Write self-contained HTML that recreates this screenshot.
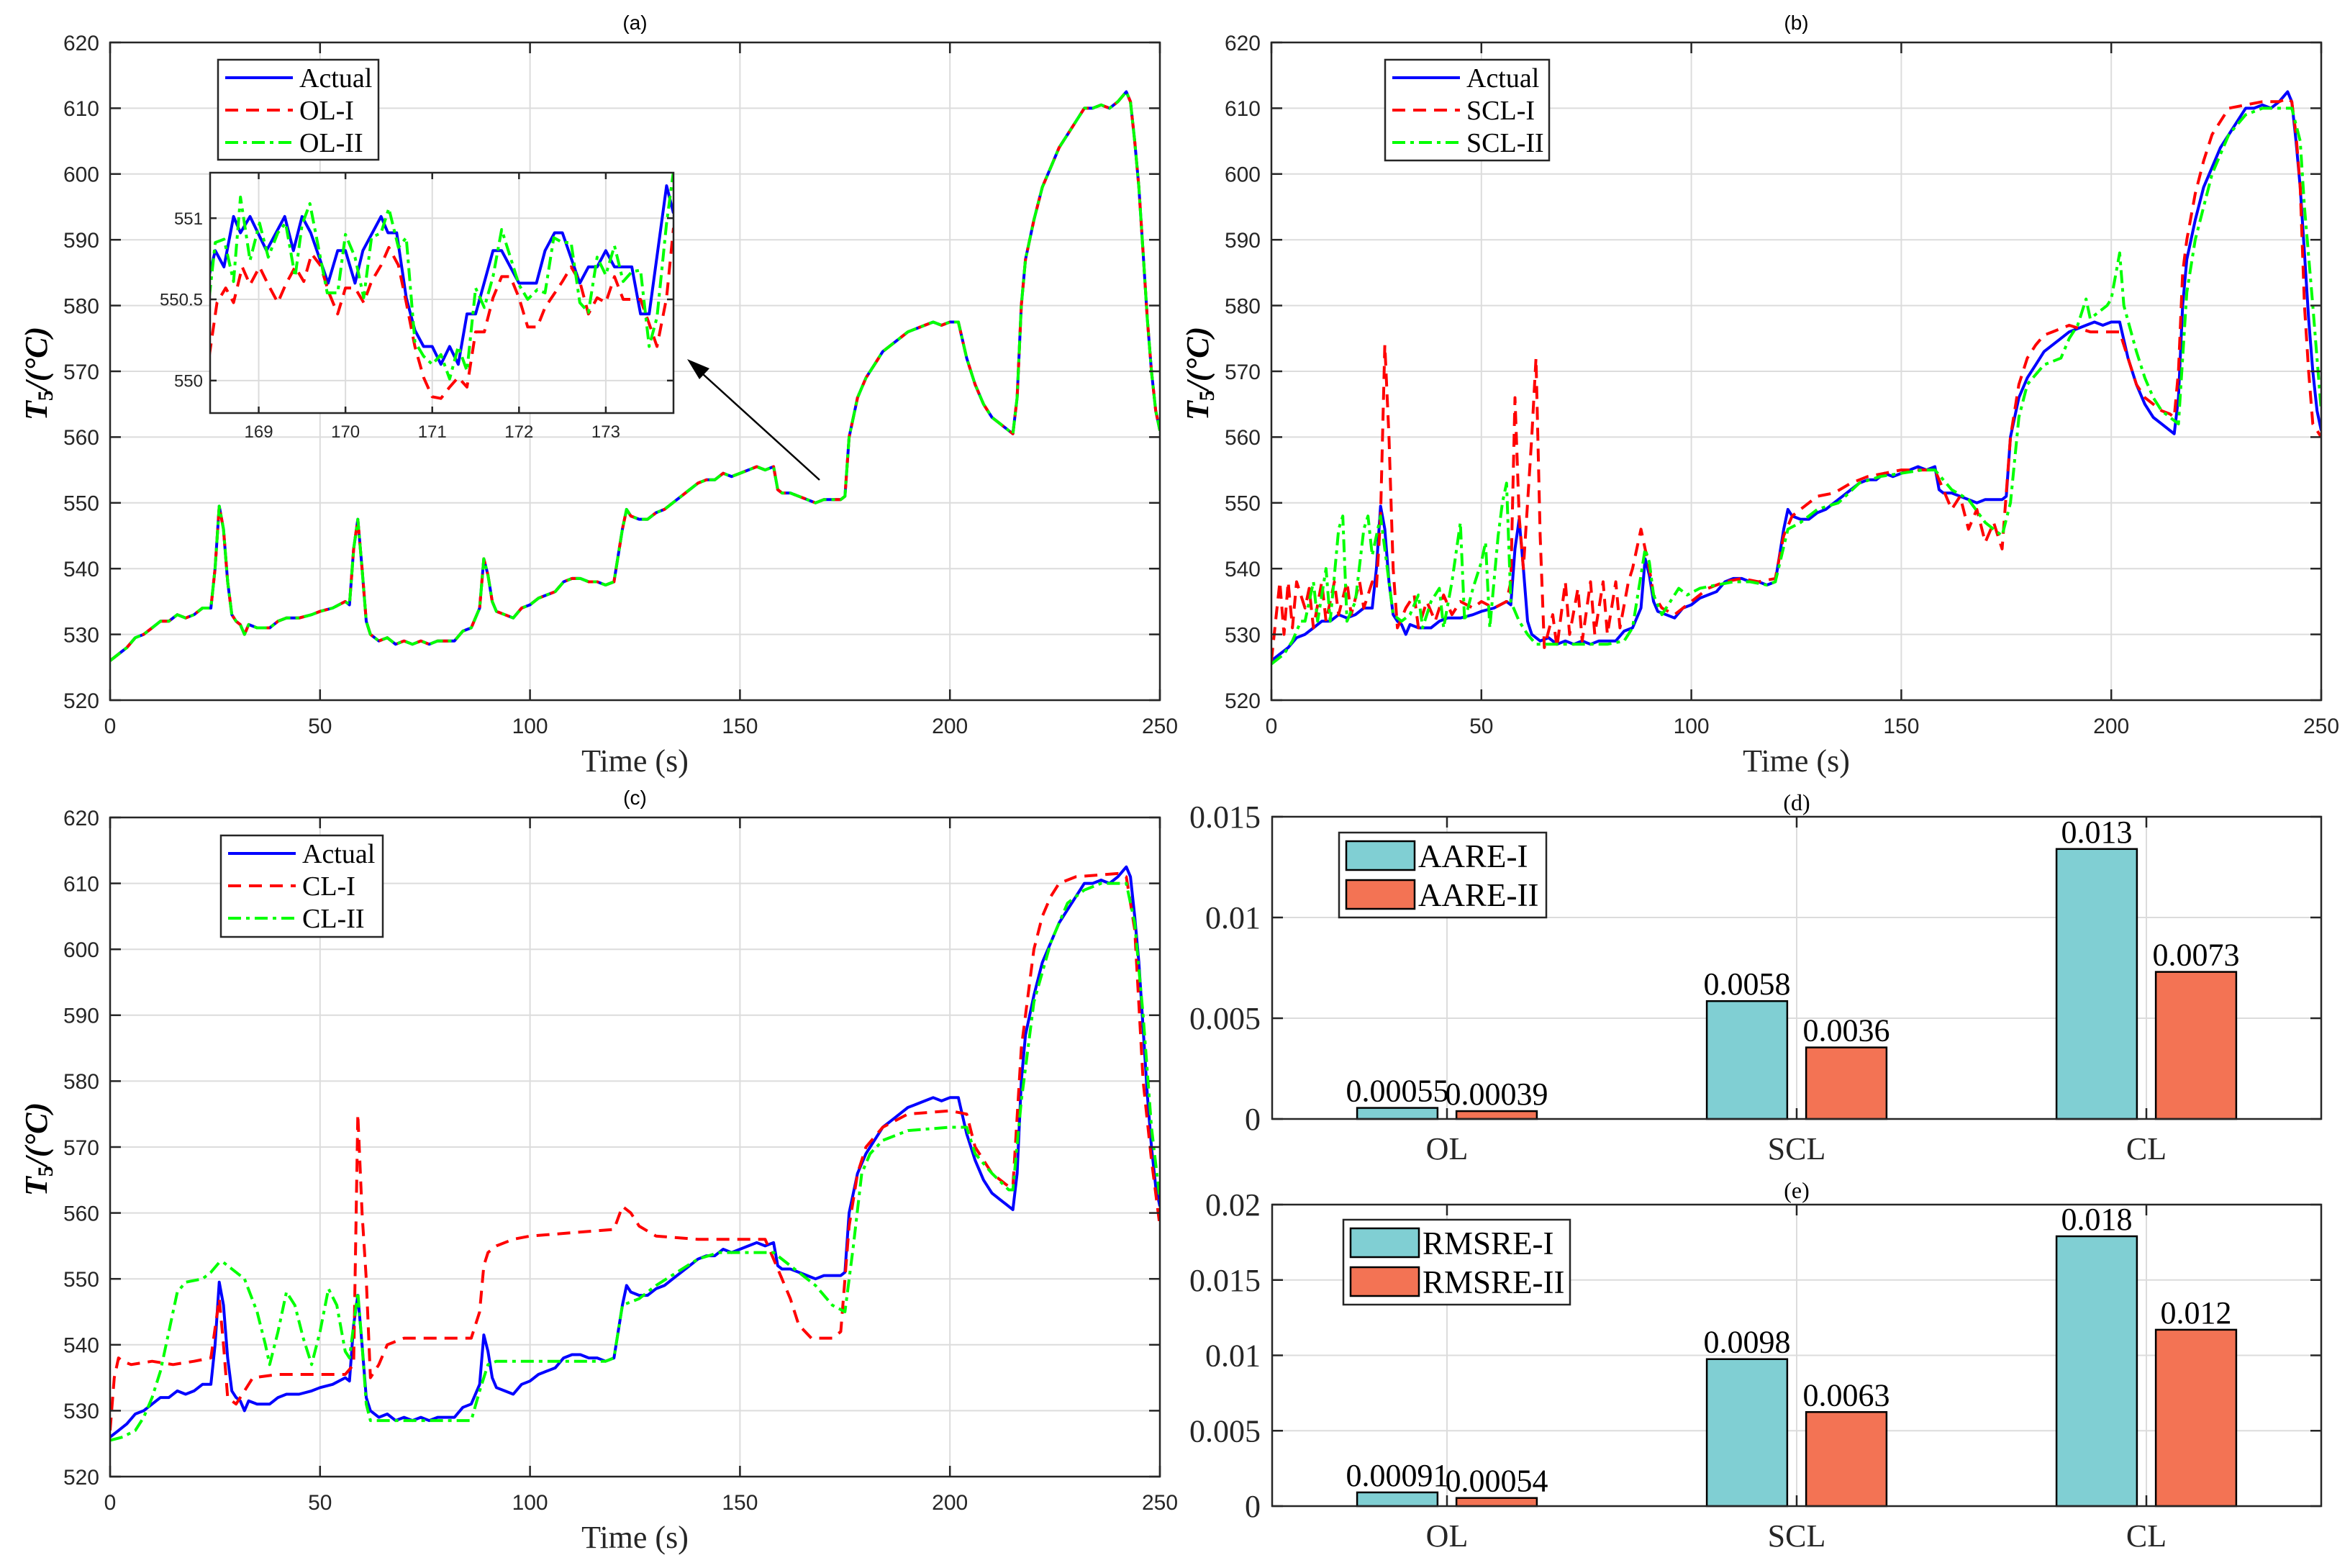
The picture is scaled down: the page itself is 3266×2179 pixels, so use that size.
<!DOCTYPE html>
<html><head><meta charset="utf-8">
<style>
html,body{margin:0;padding:0;background:#fff;}
svg{display:block;}
</style></head>
<body>
<svg id="fig" xmlns="http://www.w3.org/2000/svg" width="3266" height="2179" viewBox="0 0 3266 2179">
<rect x="0" y="0" width="3266" height="2179" fill="#fff"/>
</svg>
<script>
// ---------- data ----------
const actual = [[0,526],[2,527],[4,528],[6,529.5],[8,530],[10,531],[12,532],[14,532],[16,533],[18,532.5],[20,533],[22,534],[24,534],[25,540],[26,549.5],[27,546],[28,538],[29,533],[30,532],[31,531.5],[32,530],[33,531.5],[35,531],[38,531],[40,532],[42,532.5],[45,532.5],[48,533],[50,533.5],[53,534],[56,535],[57,534.5],[58,543],[59,547.5],[60,540],[61,532],[62,530],[64,529],[66,529.5],[68,528.5],[70,529],[72,528.5],[74,529],[76,528.5],[78,529],[80,529],[82,529],[84,530.5],[86,531],[88,534],[89,541.5],[90,539],[91,535],[92,533.5],[94,533],[96,532.5],[98,534],[100,534.5],[102,535.5],[104,536],[106,536.5],[108,538],[110,538.5],[112,538.5],[114,538],[116,538],[118,537.5],[120,538],[122,546],[123,549],[124,548],[126,547.5],[128,547.5],[130,548.5],[132,549],[134,550],[136,551],[138,552],[140,553],[142,553.5],[144,553.5],[146,554.5],[148,554],[150,554.5],[152,555],[154,555.5],[156,555],[158,555.5],[159,552],[160,551.5],[162,551.5],[164,551],[166,550.5],[168,550],[170,550.5],[172,550.5],[174,550.5],[175,551],[176,560],[178,566],[180,569],[182,571],[184,573],[186,574],[188,575],[190,576],[192,576.5],[194,577],[196,577.5],[198,577],[200,577.5],[202,577.5],[204,572],[206,568],[208,565],[210,563],[212,562],[214,561],[215,560.5],[216,566],[217,580],[218,587],[220,593],[222,598],[224,601],[226,604],[228,606],[230,608],[232,610],[234,610],[236,610.5],[238,610],[240,611],[242,612.5],[243,611],[244,605],[245,598],[246,588],[247,578],[248,570],[249,564],[250,561]];
const olI = actual;
const olII = actual;
const sclI = [[0,526],[1,532],[2,538],[3,530],[4,538],[5,531],[6,538],[8,534],[9,537],[10,531],[12,538],[13,532],[15,538],[16,533],[18,538],[19,533],[21,538],[22,534],[24,538],[25,537],[26,548],[27,574],[28,560],[29,540],[30,531],[32,534],[34,536],[35,531],[37,535],[39,532],[41,536],[43,533],[45,535],[48,534],[50,535],[53,534],[56,535],[57,538],[58,566],[59,548],[60,540],[62,560],[63,572],[64,545],[65,528],[67,533],[68,528],[70,538],[71,530],[73,537],[74,529],[76,538],[77,530],[79,538],[80,530],[82,538],[83,531],[85,538],[86,540],[88,546],[90,540],[91,536],[93,534],[96,533],[100,535],[104,537],[108,538],[112,538.5],[116,538],[120,538.5],[122,545],[124,548],[126,549],[128,550],[130,551],[134,551.5],[138,553],[142,554],[146,554.5],[150,555],[154,555],[158,555],[160,552],[162,549],[164,551],[166,546],[168,549],[170,544],[172,547],[174,543],[176,560],[178,568],[180,572],[182,574],[184,575.5],[186,576],[190,577],[195,576],[200,576],[202,576],[204,572],[206,568],[208,566],[210,565],[212,564],[214,563.5],[215,563],[216,570],[217,585],[218,590],[220,597],[222,602],[224,606],[226,608],[228,610],[232,610.5],[236,611],[240,611],[242,611.5],[243,611],[244,606],[245,598],[246,580],[247,570],[248,562],[250,560]];
const sclII = [[0,525.5],[3,527],[5,529],[7,532],[8,532],[10,538],[11,532],[13,540],[14,532],[16,546],[17,548],[18,532],[20,535],[22,546],[23,548],[24,542],[26,548],[28,538],[29,533],[31,532],[33,533],[35,536],[36,531],[38,535],[40,537],[41,531],[43,538],[45,547],[46,532],[48,537],[50,541],[51,544],[52,531],[54,545],[55,550],[56,553],[57,535],[59,532],[61,530],[63,528.5],[66,528.5],[72,528.5],[80,528.5],[84,529],[86,531],[87,535],[88,539],[89,543],[90,541],[91,536],[93,533],[95,535],[97,537],[99,536],[102,537],[106,537.5],[110,538],[114,538],[118,537.5],[120,538],[123,546],[126,547],[130,549],[135,550],[140,553],[145,554],[150,554.5],[155,555],[158,555],[162,552],[166,550.5],[170,547],[172,546],[174,545],[176,550],[178,563],[180,568],[184,571],[188,572],[190,575],[192,577],[194,581],[195,578],[197,579],[199,580],[200,581],[202,588],[203,580],[206,573],[208,569],[210,566],[212,564],[214,563],[216,562],[217,572],[218,582],[220,590],[224,600],[228,606],[232,609],[236,610],[240,610],[243,610],[245,605],[246,595],[248,580],[250,564]];
const clI = [[0,527],[1,535],[2,538],[3,537.5],[5,537],[10,537.5],[15,537],[20,537.5],[24,538],[26,547],[27,540],[28,532],[30,531],[32,533],[34,535],[40,535.5],[50,535.5],[56,535.5],[58,537],[59,575],[60,560],[61,550],[62,535],[64,537],[66,540],[70,541],[80,541],[86,541],[88,545],[89,552],[90,554],[92,555],[96,556],[100,556.5],[110,557],[120,557.5],[122,561],[124,560],[126,558],[130,556.5],[140,556],[150,556],[156,556],[158,553],[160,550],[162,547],[164,543],[167,541],[172,541],[174,542],[176,558],[178,566],[180,570],[184,573],[190,575],[200,575.5],[204,575],[206,570],[210,566],[214,564],[215,564],[217,585],[220,600],[222,605],[224,608],[226,610],[230,611],[240,611.5],[242,611],[244,603],[246,580],[248,568],[250,558]];
const clII = [[0,525.5],[3,526],[6,527],[8,529],[10,532],[12,536],[14,542],[16,548],[18,549.5],[22,550],[24,551],[26,552.5],[27,552.5],[28,552],[32,550],[35,545],[37,540],[38,537],[40,542],[42,548],[44,546],[46,541],[48,537],[50,542],[52,548.5],[54,546],[56,539],[57,538],[59,548],[60,540],[61,531],[62,528.5],[70,528.5],[80,528.5],[86,528.5],[88,533],[90,537],[92,537.5],[100,537.5],[110,537.5],[118,537.5],[120,538],[122,546],[126,547],[130,549],[135,551],[140,553],[145,554],[150,554],[155,554],[158,554],[162,552],[168,549],[172,546],[175,545],[177,555],[179,566],[181,569],[184,571],[190,572.5],[200,573],[204,573],[206,569],[210,566],[214,563.5],[215,563.5],[217,577],[220,592],[224,601],[228,607],[232,609],[236,610],[240,610],[242,610],[244,604],[246,590],[248,573],[250,562]];
// inset (zoom of OL panel)
const insetActual = [[168.43,550.65],[168.5,550.8],[168.6,550.7],[168.71,551.01],[168.79,550.91],[168.9,551.01],[169.09,550.8],[169.3,551.01],[169.4,550.8],[169.5,551.01],[169.6,550.91],[169.8,550.6],[169.91,550.8],[170,550.8],[170.11,550.6],[170.2,550.8],[170.41,551.01],[170.49,550.91],[170.59,550.91],[170.7,550.51],[170.8,550.31],[170.9,550.21],[171,550.21],[171.1,550.1],[171.2,550.21],[171.3,550.1],[171.4,550.41],[171.5,550.41],[171.7,550.8],[171.8,550.8],[172,550.6],[172.2,550.6],[172.3,550.8],[172.41,550.91],[172.5,550.91],[172.7,550.6],[172.8,550.7],[172.9,550.7],[173,550.8],[173.1,550.7],[173.3,550.7],[173.4,550.41],[173.5,550.41],[173.7,551.2],[173.78,551.03]];
const insetOLI = [[168.43,550.15],[168.52,550.48],[168.62,550.57],[168.71,550.48],[168.81,550.7],[168.9,550.59],[169.01,550.7],[169.11,550.59],[169.22,550.48],[169.31,550.59],[169.42,550.7],[169.52,550.61],[169.61,550.78],[169.71,550.71],[169.81,550.54],[169.91,550.41],[170,550.57],[170.11,550.57],[170.21,550.48],[170.3,550.61],[170.41,550.71],[170.5,550.82],[170.61,550.71],[170.7,550.48],[170.8,550.21],[170.9,550.02],[171,549.9],[171.1,549.89],[171.2,549.96],[171.3,550.02],[171.4,549.96],[171.5,550.3],[171.6,550.3],[171.7,550.51],[171.8,550.64],[171.9,550.64],[172,550.51],[172.1,550.33],[172.21,550.33],[172.3,550.45],[172.4,550.53],[172.5,550.61],[172.6,550.7],[172.7,550.61],[172.8,550.41],[172.9,550.51],[173,550.48],[173.1,550.64],[173.2,550.5],[173.3,550.5],[173.4,550.5],[173.5,550.35],[173.59,550.21],[173.7,550.51],[173.78,550.94]];
const insetOLII = [[168.43,550.51],[168.5,550.85],[168.6,550.87],[168.71,550.61],[168.79,551.13],[168.9,550.74],[169.01,550.97],[169.11,550.76],[169.22,550.91],[169.31,550.97],[169.42,550.64],[169.5,550.96],[169.59,551.09],[169.79,550.54],[169.91,550.54],[170,550.9],[170.11,550.76],[170.21,550.51],[170.3,550.88],[170.41,550.91],[170.5,551.06],[170.61,550.82],[170.7,550.88],[170.8,550.24],[170.9,550.15],[171,550.1],[171.1,550.16],[171.2,550.01],[171.3,550.21],[171.4,550.06],[171.5,550.57],[171.6,550.45],[171.7,550.64],[171.8,550.93],[171.9,550.76],[172,550.59],[172.1,550.5],[172.21,550.56],[172.3,550.54],[172.4,550.88],[172.5,550.85],[172.6,550.85],[172.7,550.48],[172.8,550.42],[172.9,550.76],[173,550.65],[173.1,550.83],[173.2,550.61],[173.3,550.67],[173.4,550.68],[173.5,550.21],[173.59,550.39],[173.7,550.97],[173.78,551.29]];
const timeTicks = [0,50,100,150,200,250];
const tempTicks = [520,530,540,550,560,570,580,590,600,610,620];
const insetXTicks = [169,170,171,172,173];
const insetYTicks = [550,550.5,551];
// bar data
const categories = ['OL','SCL','CL'];
const aareI = [0.00055,0.00585,0.0134];
const aareII = [0.00039,0.00355,0.0073];
const aareILabels = ['0.00055','0.0058','0.013'];
const aareIILabels = ['0.00039','0.0036','0.0073'];
const rmsreI = [0.00091,0.00975,0.0179];
const rmsreII = [0.00054,0.00624,0.0117];
const rmsreILabels = ['0.00091','0.0098','0.018'];
const rmsreIILabels = ['0.00054','0.0063','0.012'];
const aareTicks = [0,0.005,0.01,0.015];
const aareTickLabels = ['0','0.005','0.01','0.015'];
const rmsreTicks = [0,0.005,0.01,0.015,0.02];
const rmsreTickLabels = ['0','0.005','0.01','0.015','0.02'];

// ---------- helpers ----------
const NS='http://www.w3.org/2000/svg';
const svg=document.getElementById('fig');
function mk(tag,attrs,parent){const e=document.createElementNS(NS,tag);for(const k in attrs)e.setAttribute(k,attrs[k]);(parent||svg).appendChild(e);return e;}
function txt(s,attrs,parent){const e=mk('text',attrs,parent);e.textContent=s;return e;}
const AX='#262626', GRID='#dcdcdc';
const SANS='"Liberation Sans", Arial, sans-serif', SERIF='"Liberation Serif", "Times New Roman", serif';
const styles={
  actual:{stroke:'#0000ff',dash:''},
  red:{stroke:'#ff0000',dash:'18,11'},
  green:{stroke:'#00ff00',dash:'18,7,5,7'}
};

function linePanel(name,box,xd,yd,xt,yt,series,title,opts){
  const g=mk('g',{});
  
  
  const sx=v=>box.l+(v-xd[0])/(xd[1]-xd[0])*(box.r-box.l);
  const sy=v=>box.b-(v-yd[0])/(yd[1]-yd[0])*(box.b-box.t);
  const fs=opts.fs||30;
  // grid
  xt.forEach(v=>{const l=mk('line',{x1:sx(v),x2:sx(v),y1:box.t,y2:box.b,stroke:GRID,'stroke-width':2},g);});
  yt.forEach(v=>{const l=mk('line',{x1:box.l,x2:box.r,y1:sy(v),y2:sy(v),stroke:GRID,'stroke-width':2},g);});
  // series
  const clip='clip-'+name;
  const cp=mk('clipPath',{id:clip},g);mk('rect',{x:box.l,y:box.t,width:box.r-box.l,height:box.b-box.t},cp);
  series.forEach(s=>{
    const d=s.data.map((p,i)=>(i?'L':'M')+sx(p[0]).toFixed(1)+','+sy(p[1]).toFixed(1)).join('');
    const p=mk('path',{d:d,fill:'none',stroke:s.style.stroke,'stroke-width':opts.lw||4,'stroke-dasharray':s.style.dash,'stroke-linejoin':'round','clip-path':'url(#'+clip+')'},g);
    
    
  });
  // axes box
  const fr=mk('rect',{x:box.l,y:box.t,width:box.r-box.l,height:box.b-box.t,fill:'none',stroke:AX,'stroke-width':2.5},g);
  
  
  const tl=opts.tl||15;
  xt.forEach(v=>{
    mk('line',{x1:sx(v),x2:sx(v),y1:box.b,y2:box.b-tl,stroke:AX,'stroke-width':2.5},g);
    mk('line',{x1:sx(v),x2:sx(v),y1:box.t,y2:box.t+tl,stroke:AX,'stroke-width':2.5},g);
    const t=txt(String(v),{x:sx(v),y:box.b+opts.xlo,'font-family':SANS,'font-size':fs,'text-anchor':'middle',fill:AX},g);
    
    
  });
  yt.forEach(v=>{
    mk('line',{x1:box.l,x2:box.l+tl,y1:sy(v),y2:sy(v),stroke:AX,'stroke-width':2.5},g);
    mk('line',{x1:box.r,x2:box.r-tl,y1:sy(v),y2:sy(v),stroke:AX,'stroke-width':2.5},g);
    const t=txt(String(v),{x:box.l-opts.ylo,y:sy(v)+fs*0.36,'font-family':SANS,'font-size':fs,'text-anchor':'end',fill:AX},g);
    
    
  });
  if(title){
    const t=txt(title,{x:(box.l+box.r)/2,y:box.t-18,'font-family':SANS,'font-size':28,'text-anchor':'middle',fill:'#000'},g);
    
    
  }
  if(opts.axisLabels){
    const xl=txt('Time (s)',{x:(box.l+box.r)/2,y:box.b+99,'font-family':SERIF,'font-size':44,'text-anchor':'middle',fill:'#262626'},g);
    
    
    const cy=(box.t+box.b)/2+3, cx=box.l-88;
    const yl=mk('text',{x:cx,y:cy,transform:'rotate(-90 '+cx+' '+cy+')','font-family':SERIF,'font-size':44,'font-weight':'bold','font-style':'italic','text-anchor':'middle',fill:'#000'},g);
    
    
    const a=mk('tspan',{},yl);a.textContent='T';
    const b=mk('tspan',{'font-size':30,dy:8,'font-style':'normal'},yl);b.textContent='5';
    const c=mk('tspan',{dy:-8},yl);c.textContent='/(°C)';
  }
  return {g,sx,sy};
}

function lineLegend(name,box,labels){
  const g=mk('g',{});
  
  
  mk('rect',{x:box.x,y:box.y,width:box.w,height:box.h,fill:'#fff',stroke:AX,'stroke-width':2.5},g);
  const st=[styles.actual,styles.red,styles.green];
  labels.forEach((lab,i)=>{
    const y=box.y+25+i*45;
    const e=mk('g',{},g);
    
    
    mk('line',{x1:box.x+10,x2:box.x+104,y1:y,y2:y,stroke:st[i].stroke,'stroke-width':4,'stroke-dasharray':st[i].dash},e);
    txt(lab,{x:box.x+113,y:y+13,'font-family':SERIF,'font-size':38,fill:'#000'},e);
  });
}

// ---------- panel (a) ----------
const pa=linePanel('panel-a-ol',{l:153,r:1612,t:59,b:973},[0,250],[520,620],timeTicks,tempTicks,
  [{name:'actual-line',data:actual,style:styles.actual},{name:'ol-i-line',data:olI,style:styles.red},{name:'ol-ii-line',data:olII,style:styles.green}],
  '(a)',{xlo:46,ylo:15,axisLabels:true});
// inset
(function(){
  const box={l:292,r:936,t:240,b:574};
  const bg=mk('rect',{x:box.l,y:box.t,width:box.r-box.l,height:box.b-box.t,fill:'#fff'});
  
  
  linePanel('inset-zoom',box,[168.44,173.78],[549.8,551.28],insetXTicks,insetYTicks,
    [{name:'inset-actual-line',data:insetActual,style:styles.actual},{name:'inset-ol-i-line',data:insetOLI,style:styles.red},{name:'inset-ol-ii-line',data:insetOLII,style:styles.green}],
    null,{xlo:34,ylo:10,fs:24,tl:9,lw:4});
})();
// arrow
(function(){
  const g=mk('g',{});
  
  
  mk('line',{x1:1139,y1:667,x2:966,y2:510,stroke:'#000','stroke-width':2.5},g);
  mk('polygon',{points:'955,499 986,512 972,527',fill:'#000'},g);
})();
lineLegend('legend-a',{x:303,y:83,w:223,h:139},['Actual','OL-I','OL-II']);

// ---------- panel (b) ----------
linePanel('panel-b-scl',{l:1767,r:3226,t:59,b:973},[0,250],[520,620],timeTicks,tempTicks,
  [{name:'actual-line',data:actual,style:styles.actual},{name:'scl-i-line',data:sclI,style:styles.red},{name:'scl-ii-line',data:sclII,style:styles.green}],
  '(b)',{xlo:46,ylo:15,axisLabels:true});
lineLegend('legend-b',{x:1925,y:83,w:228,h:140},['Actual','SCL-I','SCL-II']);

// ---------- panel (c) ----------
linePanel('panel-c-cl',{l:153,r:1612,t:1136,b:2052},[0,250],[520,620],timeTicks,tempTicks,
  [{name:'actual-line',data:actual,style:styles.actual},{name:'cl-i-line',data:clI,style:styles.red},{name:'cl-ii-line',data:clII,style:styles.green}],
  '(c)',{xlo:46,ylo:15,axisLabels:true});
lineLegend('legend-c',{x:307,y:1161,w:225,h:141},['Actual','CL-I','CL-II']);

// ---------- bar panels ----------
function barPanel(name,box,ymax,ticks,tickLabels,v1,v2,l1,l2,title,legNames,legBox){
  const g=mk('g',{});
  
  
  const sx=v=>box.l+(v-0.5)/3*(box.r-box.l);
  const sy=v=>box.b-v/ymax*(box.b-box.t);
  const unit=(box.r-box.l)/3;
  categories.forEach((c,i)=>{mk('line',{x1:sx(i+1),x2:sx(i+1),y1:box.t,y2:box.b,stroke:GRID,'stroke-width':2},g);});
  ticks.forEach(v=>{mk('line',{x1:box.l,x2:box.r,y1:sy(v),y2:sy(v),stroke:GRID,'stroke-width':2},g);});
  const bw=0.23*unit, off=0.142*unit;
  [[v1,l1,'#80cfd3',-1,'bar-i'],[v2,l2,'#f37354',1,'bar-ii']].forEach(([vals,labs,col,sgn,nm])=>{
    vals.forEach((v,i)=>{
      const cx=sx(i+1)+sgn*off;
      const r=mk('rect',{x:cx-bw/2,y:sy(v),width:bw,height:box.b-sy(v),fill:col,stroke:'#000','stroke-width':2.5},g);
      
      
      const t=txt(labs[i],{x:cx,y:sy(v)-9,'font-family':SERIF,'font-size':44,'text-anchor':'middle',fill:'#000'},g);
      
      
    });
  });
  mk('rect',{x:box.l,y:box.t,width:box.r-box.l,height:box.b-box.t,fill:'none',stroke:AX,'stroke-width':2.5},g);
  categories.forEach((c,i)=>{
    mk('line',{x1:sx(i+1),x2:sx(i+1),y1:box.b,y2:box.b-15,stroke:AX,'stroke-width':2.5},g);
    mk('line',{x1:sx(i+1),x2:sx(i+1),y1:box.t,y2:box.t+15,stroke:AX,'stroke-width':2.5},g);
    const t=txt(c,{x:sx(i+1),y:box.b+56,'font-family':SERIF,'font-size':44,'text-anchor':'middle',fill:AX},g);
    
    
  });
  ticks.forEach((v,i)=>{
    mk('line',{x1:box.l,x2:box.l+15,y1:sy(v),y2:sy(v),stroke:AX,'stroke-width':2.5},g);
    mk('line',{x1:box.r,x2:box.r-15,y1:sy(v),y2:sy(v),stroke:AX,'stroke-width':2.5},g);
    const t=txt(tickLabels[i],{x:box.l-16,y:sy(v)+15,'font-family':SERIF,'font-size':44,'text-anchor':'end',fill:AX},g);
    
    
  });
  const tt=txt(title,{x:(box.l+box.r)/2,y:box.t-9,'font-family':SERIF,'font-size':32,'text-anchor':'middle',fill:'#000'},g);
  
  
  const lg=mk('g',{},g);
  
  
  mk('rect',{x:legBox.x,y:legBox.y,width:legBox.w,height:legBox.h,fill:'#fff',stroke:AX,'stroke-width':2.5},lg);
  ['#80cfd3','#f37354'].forEach((c,i)=>{
    const e=mk('g',{},lg);
    
    
    mk('rect',{x:legBox.x+10,y:legBox.y+12+i*54,width:95,height:40,fill:c,stroke:'#000','stroke-width':2.5},e);
    txt(legNames[i],{x:legBox.x+110,y:legBox.y+48+i*54,'font-family':SERIF,'font-size':45,fill:'#000'},e);
  });
}
barPanel('panel-d-aare',{l:1768,r:3226,t:1135,b:1555},0.015,aareTicks,aareTickLabels,aareI,aareII,aareILabels,aareIILabels,'(d)',['AARE-I','AARE-II'],{x:1861,y:1157,w:288,h:118});
barPanel('panel-e-rmsre',{l:1768,r:3226,t:1674,b:2093},0.02,rmsreTicks,rmsreTickLabels,rmsreI,rmsreII,rmsreILabels,rmsreIILabels,'(e)',['RMSRE-I','RMSRE-II'],{x:1867,y:1695,w:315,h:118});
</script>
</body></html>
